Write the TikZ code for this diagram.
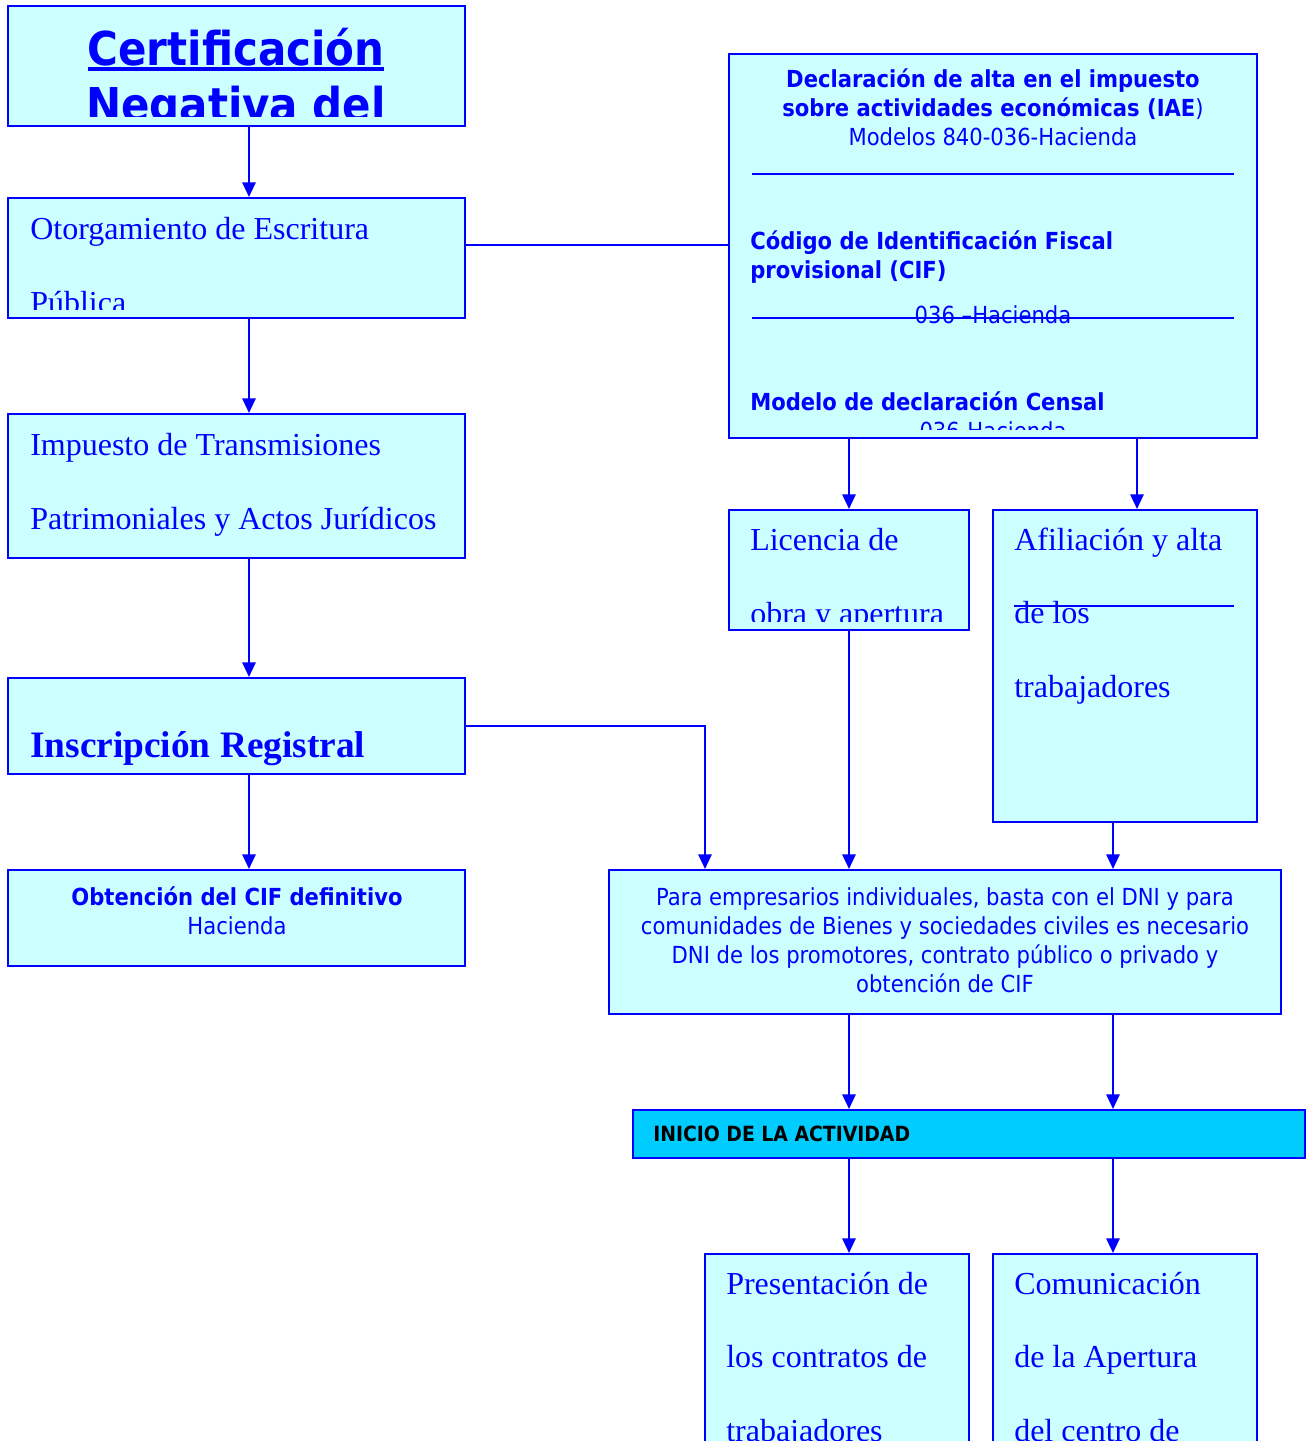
\documentclass[tikz,border=0pt]{standalone}
\usepackage{fontspec}
\setmainfont{Liberation Serif}
\newfontfamily\tsans{DejaVu Sans Condensed}
\usetikzlibrary{arrows.meta, fit}
\definecolor{lineblue}{HTML}{0000FF}
\definecolor{boxcyan}{HTML}{CCFFFF}
\definecolor{barcyan}{HTML}{00CCFF}
\newsavebox\ulbox
\newcommand\heavyul[1]{\sbox\ulbox{#1}\rlap{\rule[-3.5pt]{\wd\ulbox}{3pt}}\usebox\ulbox}
\tikzset{
    stage/.style={
        rectangle, draw=lineblue, fill=boxcyan,
        line width=1.5pt, inner sep=0pt
    },
    % texts are placed by the baseline of their last line
    serif text/.style={
        font=\fontsize{24}{55}\selectfont, text=lineblue,
        inner sep=0pt, anchor=base west, align=left
    },
    sans text/.style={
        font=\tsans\fontsize{17.6}{21.75}\selectfont, text=lineblue,
        inner sep=0pt, anchor=base, align=center
    },
    head text/.style={
        font=\tsans\bfseries\fontsize{17.6}{21.75}\selectfont, text=lineblue,
        inner sep=0pt, anchor=base west, align=left
    },
    arr/.style={
        -{Triangle[width=10pt,length=11pt]}, line width=1.5pt, draw=lineblue
    },
    link/.style={line width=1.5pt, draw=lineblue}
}
% clip a box's text a little above its lower border
\newcommand\clipbox[1]{\clip ([yshift=7.5pt]#1.south west) rectangle (#1.north east);}

\begin{document}
\begin{tikzpicture}[x=0.75pt, y=-0.75pt]

    \useasboundingbox (0,0) rectangle (1314,1441);

    % Boxes
    \node[stage, fit={(8,6) (465,126)}] (cert) {};
    \node[stage, fit={(8,198) (465,318)}] (otorg) {};
    \node[stage, fit={(8,414) (465,558)}] (itp) {};
    \node[stage, fit={(8,678) (465,774)}] (inscr) {};
    \node[stage, fit={(8,870) (465,966)}] (cifdef) {};
    \node[stage, fit={(729,54) (1257,438)}] (alta) {};
    \node[stage, fit={(729,510) (969,630)}] (licen) {};
    \node[stage, fit={(993,510) (1257,822)}] (afil) {};
    \node[stage, fit={(609,870) (1281,1014)}] (docs) {};
    \node[stage, fill=barcyan, fit={(633,1110) (1305,1158)}] (inicio) {};
    \node[stage, fit={(705,1254) (969,1470)}] (contr) {};
    \node[stage, fit={(993,1254) (1257,1470)}] (apert) {};

    % Texts
    \begin{scope}
        \clipbox{cert}
        \node[font=\tsans\bfseries\fontsize{35}{42}\selectfont, text=lineblue,
              inner sep=0pt, anchor=base, align=center] (cert-t) at (236,122)
              {\heavyul{Certificación}\\Negativa del};
    \end{scope}
    \begin{scope}
        \clipbox{otorg}
        \node[serif text] (otorg-t) at (30,313) {Otorgamiento de Escritura\\Pública};
    \end{scope}
    \node[serif text] (itp-t) at (30,529)
        {Impuesto de Transmisiones\\Patrimoniales y Actos Jurídicos};
    \node[serif text, font=\bfseries\fontsize{28}{34}\selectfont] (inscr-t) at (30,757)
        {Inscripción Registral};
    \node[sans text] (cifdef-t) at (237,934)
        {\bfseries Obtención del CIF definitivo\\Hacienda};

    \begin{scope}
        \clipbox{alta}
        \node[sans text] (alta-t) at (993,146)
            {\bfseries Declaración de alta en el impuesto\\
             {\bfseries sobre actividades económicas (IAE})\\
             Modelos 840-036-Hacienda};
        \node[head text] (cif-t) at (750,278)
            {Código de Identificación Fiscal\\provisional (CIF)};
        \node[sans text] (cif-h) at (993,323) {036 –Hacienda};
        \node[head text] (censal-t) at (750,410) {Modelo de declaración Censal};
        \node[sans text] (censal-h) at (993,439) {036-Hacienda};
    \end{scope}
    \draw[link] (752,174) -- (1234,174);
    \draw[link] (752,318) -- (1234,318);

    \begin{scope}
        \clipbox{licen}
        \node[serif text] (licen-t) at (750,624) {Licencia de\\obra y apertura};
    \end{scope}
    \node[serif text] (afil-t) at (1014,697) {Afiliación y alta\\de los\\trabajadores};
    \draw[link] (1014,606) -- (1234,606);

    \node[sans text] (docs-t) at (945,992)
        {Para empresarios individuales, basta con el DNI y para\\
         comunidades de Bienes y sociedades civiles es necesario\\
         DNI de los promotores, contrato público o privado y\\
         obtención de CIF};
    \node[head text, text=black, font=\tsans\bfseries\fontsize{15.7}{18}\selectfont]
        (inicio-t) at (653,1141) {INICIO DE LA ACTIVIDAD};
    \node[serif text] (contr-t) at (726,1441)
        {Presentación de\\los contratos de\\trabajadores};
    \node[serif text] (apert-t) at (1014,1441)
        {Comunicación\\de la Apertura\\del centro de};

    % Connectors
    \draw[arr] (249,0 |- cert.south) -- (249,0 |- otorg.north);
    \draw[arr] (249,0 |- otorg.south) -- (249,0 |- itp.north);
    \draw[arr] (249,0 |- itp.south) -- (249,0 |- inscr.north);
    \draw[arr] (249,0 |- inscr.south) -- (249,0 |- cifdef.north);
    \draw[link] (otorg.east |- 0,245) -- (alta.west |- 0,245);
    \draw[arr] (inscr.east) -| (705,0 |- docs.north);
    \draw[arr] (licen.north |- alta.south) -- (licen.north);
    \draw[arr] (1137,0 |- alta.south) -- (1137,0 |- afil.north);
    \draw[arr] (licen.south) -- (licen.south |- docs.north);
    \draw[arr] (1113,0 |- afil.south) -- (1113,0 |- docs.north);
    \draw[arr] (849,0 |- docs.south) -- (849,0 |- inicio.north);
    \draw[arr] (1113,0 |- docs.south) -- (1113,0 |- inicio.north);
    \draw[arr] (849,0 |- inicio.south) -- (849,0 |- contr.north);
    \draw[arr] (1113,0 |- inicio.south) -- (1113,0 |- apert.north);

\end{tikzpicture}
\end{document}
